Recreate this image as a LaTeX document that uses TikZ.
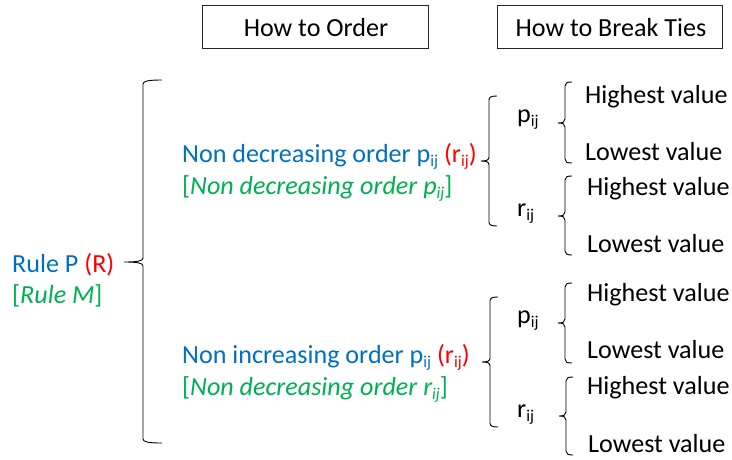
\documentclass[tikz,border=0pt]{standalone}
\usepackage{fontspec}
\setmainfont{Carlito}
\definecolor{ordblue}{HTML}{0070C0}
\definecolor{ordred}{HTML}{FF0000}
\definecolor{ordgreen}{HTML}{00B050}
\newcommand{\ssub}[1]{\raisebox{-4.5pt}{\fontsize{16.5}{16.5}\selectfont #1}}
% brace: line x, hook length, top, mid, bottom
\newcommand{\pbrace}[5]{%
  \draw[bracestyle] ({#1+#2},#3) .. controls ({#1+0.3*#2},#3) and (#1,{#3+1}) .. (#1,{#3+4})
    -- (#1,{#4-4}) .. controls (#1,{#4-1}) and ({#1-0.3*#2},#4) .. ({#1-#2},#4)
    .. controls ({#1-0.3*#2},#4) and (#1,{#4+1}) .. (#1,{#4+4})
    -- (#1,{#5-4}) .. controls (#1,{#5-1}) and ({#1+0.3*#2},#5) .. ({#1+#2},#5);}
\begin{document}
\begin{tikzpicture}[x=1pt,y=-1pt,
  txt/.style={inner sep=0pt,anchor=base west,font=\fontsize{26.1}{30}\selectfont},
  headbox/.style={draw=black!85,line width=0.9pt},
  bracestyle/.style={draw=black,line width=0.9pt}]
\useasboundingbox (0,0) rectangle (732,459);
% headers
\draw[headbox] (202,5) rectangle (428,48);
\draw[headbox] (497,5) rectangle (722,48);
\node[txt,anchor=base] (h1) at (316,36) {How to Order};
\node[txt,anchor=base] (h2) at (611,36) {How to Break Ties};
% root
\node[txt,text=ordblue] (root) at (12,272) {Rule P \textcolor{ordred}{(R)}};
\node[txt,text=ordgreen] (root2) at (12,303) {[\textit{Rule M}]};
% middle
\node[txt,text=ordblue] (m1) at (182,162) {Non decreasing order p\ssub{ij} \textcolor{ordred}{(r\ssub{ij})}};
\node[txt,text=ordgreen] (m1b) at (182,194) {[\textit{Non decreasing order p\ssub{ij}}]};
\node[txt,text=ordblue] (m2) at (182,363) {Non increasing order p\ssub{ij} \textcolor{ordred}{(r\ssub{ij})}};
\node[txt,text=ordgreen] (m2b) at (182,395) {[\textit{Non decreasing order r\ssub{ij}}]};
% criteria
\node[txt] (p1) at (517,122) {p\ssub{ij}};
\node[txt] (r1) at (517,216) {r\ssub{ij}};
\node[txt] (p2) at (517,323) {p\ssub{ij}};
\node[txt] (r2) at (517,417) {r\ssub{ij}};
% tie breaks
\node[txt] (a1) at (585,103) {Highest value};
\node[txt] (a2) at (585,160) {Lowest value};
\node[txt] (a3) at (587,195) {Highest value};
\node[txt] (a4) at (587,252) {Lowest value};
\node[txt] (b1) at (587,301) {Highest value};
\node[txt] (b2) at (587,358) {Lowest value};
\node[txt] (b3) at (587,394) {Highest value};
\node[txt] (b4) at (588,452) {Lowest value};
% braces
\pbrace{143}{19}{80}{262}{443}
\pbrace{489}{8}{96}{161}{226}
\pbrace{490}{8}{297}{362}{427}
\pbrace{565}{7}{82}{123}{163}
\pbrace{565}{7}{176}{216}{255}
\pbrace{565}{7}{283}{323}{363}
\pbrace{566}{7}{377}{416}{455}
\end{tikzpicture}
\end{document}
